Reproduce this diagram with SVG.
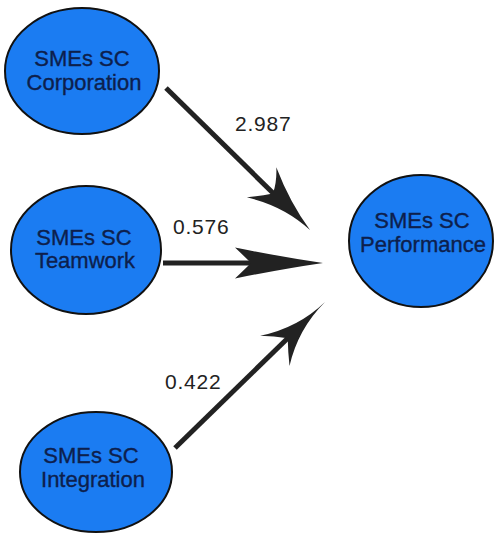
<svg xmlns="http://www.w3.org/2000/svg" width="495" height="538" viewBox="0 0 495 538">
<style>
.node{fill:#1b7cf2;stroke:#111;stroke-width:2}
.nt{font-family:"Liberation Sans",Arial,sans-serif;font-size:22px;fill:#0d1f4d;stroke:#0d1f4d;stroke-width:0.35;text-anchor:middle}
.shaft{stroke:#222;stroke-width:5;stroke-linecap:butt;fill:none}
.head{fill:#222}
.lbl{font-family:"Liberation Sans",Arial,sans-serif;font-size:21px;fill:#222;letter-spacing:0.8px}
</style>
<rect width="495" height="538" fill="#fff"/>
<g id="corporation">
<ellipse class="node" cx="82" cy="71" rx="77" ry="63"/>
<text class="nt" x="82" y="66">SMEs SC</text>
<text class="nt" x="84" y="90">Corporation</text>
</g>
<g id="teamwork">
<ellipse class="node" cx="86" cy="250" rx="75" ry="64"/>
<text class="nt" x="84" y="245">SMEs SC</text>
<text class="nt" x="85" y="268">Teamwork</text>
</g>
<g id="integration">
<ellipse class="node" cx="96" cy="472" rx="76" ry="60"/>
<text class="nt" x="91" y="463">SMEs SC</text>
<text class="nt" x="93" y="487">Integration</text>
</g>
<g id="performance">
<ellipse class="node" cx="421" cy="241" rx="72" ry="66"/>
<text class="nt" x="422" y="228">SMEs SC</text>
<text class="nt" x="423" y="252">Performance</text>
</g>
<g id="connectors">
<line class="shaft" x1="166" y1="88" x2="275" y2="195"/>
<path class="head" d="M310,230 Q290,203 276.3,167.3 Q277,182 273,193.5 Q260,196 246.9,197.3 Q284,206 310,230 Z"/>
<line class="shaft" x1="163" y1="263" x2="254" y2="263"/>
<path class="head" d="M323,263 Q282,257 235,247.5 Q245,257 251,263 Q245,269 235,278.5 Q282,269 323,263 Z"/>
<line class="shaft" x1="175" y1="448" x2="289" y2="337"/>
<path class="head" d="M325,302 Q298,328 260.1,335.8 Q274,336 287.7,338.3 Q288,352 289.5,366 Q298,329 325,302 Z"/>
</g>
<g id="labels">
<text class="lbl" x="235" y="131">2.987</text>
<text class="lbl" x="173" y="234">0.576</text>
<text class="lbl" x="165" y="389">0.422</text>
</g>
</svg>
